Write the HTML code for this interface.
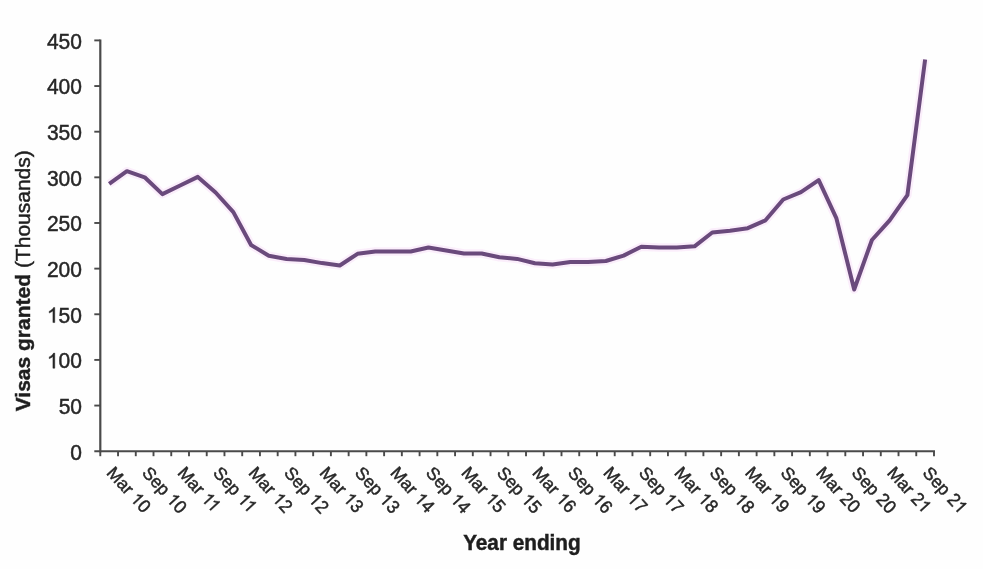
<!DOCTYPE html>
<html><head><meta charset="utf-8"><title>Visas granted</title>
<style>
html,body{margin:0;padding:0;background:#fefefe;}
body{width:983px;height:569px;overflow:hidden;}
svg{display:block;will-change:transform;font-family:"Liberation Sans",sans-serif;}
text{fill:#262626;stroke:#262626;stroke-width:0.45px;paint-order:stroke;}
path{fill:#262626;stroke:#262626;}
.yl text{font-size:21px;} .yl path{stroke-width:43.89px;}
.xl text{font-size:17.6px;} .xl path{stroke-width:52.36px;}
.t{font-size:21px;fill:#1e1e1e;stroke:#1e1e1e;}
.h{fill:none;stroke:none;}
</style></head>
<body>
<svg width="983" height="569" viewBox="0 0 983 569">
<rect width="983" height="569" fill="#fefefe"/>
<line x1="100.3" y1="39.449999999999996" x2="100.3" y2="452.2" stroke="#4a4a4a" stroke-width="2.2"/>
<line x1="94.3" y1="451.2" x2="935.0" y2="451.2" stroke="#4a4a4a" stroke-width="1.9"/>
<line x1="94.3" y1="405.56" x2="100.3" y2="405.56" stroke="#4a4a4a" stroke-width="1.9"/>
<line x1="94.3" y1="359.91" x2="100.3" y2="359.91" stroke="#4a4a4a" stroke-width="1.9"/>
<line x1="94.3" y1="314.27" x2="100.3" y2="314.27" stroke="#4a4a4a" stroke-width="1.9"/>
<line x1="94.3" y1="268.62" x2="100.3" y2="268.62" stroke="#4a4a4a" stroke-width="1.9"/>
<line x1="94.3" y1="222.98" x2="100.3" y2="222.98" stroke="#4a4a4a" stroke-width="1.9"/>
<line x1="94.3" y1="177.33" x2="100.3" y2="177.33" stroke="#4a4a4a" stroke-width="1.9"/>
<line x1="94.3" y1="131.69" x2="100.3" y2="131.69" stroke="#4a4a4a" stroke-width="1.9"/>
<line x1="94.3" y1="86.04" x2="100.3" y2="86.04" stroke="#4a4a4a" stroke-width="1.9"/>
<line x1="94.3" y1="40.40" x2="100.3" y2="40.40" stroke="#4a4a4a" stroke-width="1.9"/>
<line x1="100.30" y1="451.2" x2="100.30" y2="456.2" stroke="#4a4a4a" stroke-width="1.9"/>
<line x1="118.04" y1="451.2" x2="118.04" y2="456.2" stroke="#4a4a4a" stroke-width="1.9"/>
<line x1="135.78" y1="451.2" x2="135.78" y2="456.2" stroke="#4a4a4a" stroke-width="1.9"/>
<line x1="153.51" y1="451.2" x2="153.51" y2="456.2" stroke="#4a4a4a" stroke-width="1.9"/>
<line x1="171.25" y1="451.2" x2="171.25" y2="456.2" stroke="#4a4a4a" stroke-width="1.9"/>
<line x1="188.99" y1="451.2" x2="188.99" y2="456.2" stroke="#4a4a4a" stroke-width="1.9"/>
<line x1="206.73" y1="451.2" x2="206.73" y2="456.2" stroke="#4a4a4a" stroke-width="1.9"/>
<line x1="224.47" y1="451.2" x2="224.47" y2="456.2" stroke="#4a4a4a" stroke-width="1.9"/>
<line x1="242.21" y1="451.2" x2="242.21" y2="456.2" stroke="#4a4a4a" stroke-width="1.9"/>
<line x1="259.94" y1="451.2" x2="259.94" y2="456.2" stroke="#4a4a4a" stroke-width="1.9"/>
<line x1="277.68" y1="451.2" x2="277.68" y2="456.2" stroke="#4a4a4a" stroke-width="1.9"/>
<line x1="295.42" y1="451.2" x2="295.42" y2="456.2" stroke="#4a4a4a" stroke-width="1.9"/>
<line x1="313.16" y1="451.2" x2="313.16" y2="456.2" stroke="#4a4a4a" stroke-width="1.9"/>
<line x1="330.90" y1="451.2" x2="330.90" y2="456.2" stroke="#4a4a4a" stroke-width="1.9"/>
<line x1="348.64" y1="451.2" x2="348.64" y2="456.2" stroke="#4a4a4a" stroke-width="1.9"/>
<line x1="366.37" y1="451.2" x2="366.37" y2="456.2" stroke="#4a4a4a" stroke-width="1.9"/>
<line x1="384.11" y1="451.2" x2="384.11" y2="456.2" stroke="#4a4a4a" stroke-width="1.9"/>
<line x1="401.85" y1="451.2" x2="401.85" y2="456.2" stroke="#4a4a4a" stroke-width="1.9"/>
<line x1="419.59" y1="451.2" x2="419.59" y2="456.2" stroke="#4a4a4a" stroke-width="1.9"/>
<line x1="437.33" y1="451.2" x2="437.33" y2="456.2" stroke="#4a4a4a" stroke-width="1.9"/>
<line x1="455.07" y1="451.2" x2="455.07" y2="456.2" stroke="#4a4a4a" stroke-width="1.9"/>
<line x1="472.80" y1="451.2" x2="472.80" y2="456.2" stroke="#4a4a4a" stroke-width="1.9"/>
<line x1="490.54" y1="451.2" x2="490.54" y2="456.2" stroke="#4a4a4a" stroke-width="1.9"/>
<line x1="508.28" y1="451.2" x2="508.28" y2="456.2" stroke="#4a4a4a" stroke-width="1.9"/>
<line x1="526.02" y1="451.2" x2="526.02" y2="456.2" stroke="#4a4a4a" stroke-width="1.9"/>
<line x1="543.76" y1="451.2" x2="543.76" y2="456.2" stroke="#4a4a4a" stroke-width="1.9"/>
<line x1="561.50" y1="451.2" x2="561.50" y2="456.2" stroke="#4a4a4a" stroke-width="1.9"/>
<line x1="579.23" y1="451.2" x2="579.23" y2="456.2" stroke="#4a4a4a" stroke-width="1.9"/>
<line x1="596.97" y1="451.2" x2="596.97" y2="456.2" stroke="#4a4a4a" stroke-width="1.9"/>
<line x1="614.71" y1="451.2" x2="614.71" y2="456.2" stroke="#4a4a4a" stroke-width="1.9"/>
<line x1="632.45" y1="451.2" x2="632.45" y2="456.2" stroke="#4a4a4a" stroke-width="1.9"/>
<line x1="650.19" y1="451.2" x2="650.19" y2="456.2" stroke="#4a4a4a" stroke-width="1.9"/>
<line x1="667.93" y1="451.2" x2="667.93" y2="456.2" stroke="#4a4a4a" stroke-width="1.9"/>
<line x1="685.66" y1="451.2" x2="685.66" y2="456.2" stroke="#4a4a4a" stroke-width="1.9"/>
<line x1="703.40" y1="451.2" x2="703.40" y2="456.2" stroke="#4a4a4a" stroke-width="1.9"/>
<line x1="721.14" y1="451.2" x2="721.14" y2="456.2" stroke="#4a4a4a" stroke-width="1.9"/>
<line x1="738.88" y1="451.2" x2="738.88" y2="456.2" stroke="#4a4a4a" stroke-width="1.9"/>
<line x1="756.62" y1="451.2" x2="756.62" y2="456.2" stroke="#4a4a4a" stroke-width="1.9"/>
<line x1="774.36" y1="451.2" x2="774.36" y2="456.2" stroke="#4a4a4a" stroke-width="1.9"/>
<line x1="792.09" y1="451.2" x2="792.09" y2="456.2" stroke="#4a4a4a" stroke-width="1.9"/>
<line x1="809.83" y1="451.2" x2="809.83" y2="456.2" stroke="#4a4a4a" stroke-width="1.9"/>
<line x1="827.57" y1="451.2" x2="827.57" y2="456.2" stroke="#4a4a4a" stroke-width="1.9"/>
<line x1="845.31" y1="451.2" x2="845.31" y2="456.2" stroke="#4a4a4a" stroke-width="1.9"/>
<line x1="863.05" y1="451.2" x2="863.05" y2="456.2" stroke="#4a4a4a" stroke-width="1.9"/>
<line x1="880.79" y1="451.2" x2="880.79" y2="456.2" stroke="#4a4a4a" stroke-width="1.9"/>
<line x1="898.52" y1="451.2" x2="898.52" y2="456.2" stroke="#4a4a4a" stroke-width="1.9"/>
<line x1="916.26" y1="451.2" x2="916.26" y2="456.2" stroke="#4a4a4a" stroke-width="1.9"/>
<line x1="934.00" y1="451.2" x2="934.00" y2="456.2" stroke="#4a4a4a" stroke-width="1.9"/>
<g class="yl" transform="translate(70.31,459.50)"><text x="0" y="0" transform="scale(1,1.04)">0</text></g>
<g class="yl" transform="translate(58.64,413.86)"><text x="0" y="0" transform="scale(1,1.04)">50</text></g>
<g class="yl" transform="translate(46.95,368.21)"><text x="0" y="0" transform="scale(1,1.04)"><tspan class="h">1</tspan>00</text><path transform="translate(0.000,0) scale(0.010254,-0.010254)" d="M763 0L583 0L583 1147Q518 1085 412 1023Q306 961 223 930L223 1104Q374 1175 487 1276Q600 1377 647 1472L763 1472Z"/></g>
<g class="yl" transform="translate(46.95,322.57)"><text x="0" y="0" transform="scale(1,1.04)"><tspan class="h">1</tspan>50</text><path transform="translate(0.000,0) scale(0.010254,-0.010254)" d="M763 0L583 0L583 1147Q518 1085 412 1023Q306 961 223 930L223 1104Q374 1175 487 1276Q600 1377 647 1472L763 1472Z"/></g>
<g class="yl" transform="translate(46.95,276.92)"><text x="0" y="0" transform="scale(1,1.04)">200</text></g>
<g class="yl" transform="translate(46.95,231.28)"><text x="0" y="0" transform="scale(1,1.04)">250</text></g>
<g class="yl" transform="translate(46.95,185.63)"><text x="0" y="0" transform="scale(1,1.04)">300</text></g>
<g class="yl" transform="translate(46.95,139.99)"><text x="0" y="0" transform="scale(1,1.04)">350</text></g>
<g class="yl" transform="translate(46.95,94.34)"><text x="0" y="0" transform="scale(1,1.04)">400</text></g>
<g class="yl" transform="translate(46.95,48.70)"><text x="0" y="0" transform="scale(1,1.04)">450</text></g>
<g class="xl" transform="translate(105.77,473.5) rotate(47.5)"><text x="0" y="0">Mar</text><g transform="translate(35.188,0)"><text x="0" y="0" transform="scale(1,1.04)"><tspan class="h">1</tspan>0</text><path transform="translate(0.000,0) scale(0.008594,-0.008594)" d="M763 0L583 0L583 1147Q518 1085 412 1023Q306 961 223 930L223 1104Q374 1175 487 1276Q600 1377 647 1472L763 1472Z"/></g></g>
<g class="xl" transform="translate(141.25,473.5) rotate(47.5)"><text x="0" y="0">Sep</text><g transform="translate(36.188,0)"><text x="0" y="0" transform="scale(1,1.04)"><tspan class="h">1</tspan>0</text><path transform="translate(0.000,0) scale(0.008594,-0.008594)" d="M763 0L583 0L583 1147Q518 1085 412 1023Q306 961 223 930L223 1104Q374 1175 487 1276Q600 1377 647 1472L763 1472Z"/></g></g>
<g class="xl" transform="translate(176.72,473.5) rotate(47.5)"><text x="0" y="0">Mar</text><g transform="translate(35.188,0)"><text x="0" y="0" transform="scale(1,1.04)"><tspan class="h">1</tspan><tspan class="h">1</tspan></text><path transform="translate(0.000,0) scale(0.008594,-0.008594)" d="M763 0L583 0L583 1147Q518 1085 412 1023Q306 961 223 930L223 1104Q374 1175 487 1276Q600 1377 647 1472L763 1472Z"/><path transform="translate(8.469,0) scale(0.008594,-0.008594)" d="M763 0L583 0L583 1147Q518 1085 412 1023Q306 961 223 930L223 1104Q374 1175 487 1276Q600 1377 647 1472L763 1472Z"/></g></g>
<g class="xl" transform="translate(212.20,473.5) rotate(47.5)"><text x="0" y="0">Sep</text><g transform="translate(36.188,0)"><text x="0" y="0" transform="scale(1,1.04)"><tspan class="h">1</tspan><tspan class="h">1</tspan></text><path transform="translate(0.000,0) scale(0.008594,-0.008594)" d="M763 0L583 0L583 1147Q518 1085 412 1023Q306 961 223 930L223 1104Q374 1175 487 1276Q600 1377 647 1472L763 1472Z"/><path transform="translate(8.469,0) scale(0.008594,-0.008594)" d="M763 0L583 0L583 1147Q518 1085 412 1023Q306 961 223 930L223 1104Q374 1175 487 1276Q600 1377 647 1472L763 1472Z"/></g></g>
<g class="xl" transform="translate(247.68,473.5) rotate(47.5)"><text x="0" y="0">Mar</text><g transform="translate(35.188,0)"><text x="0" y="0" transform="scale(1,1.04)"><tspan class="h">1</tspan>2</text><path transform="translate(0.000,0) scale(0.008594,-0.008594)" d="M763 0L583 0L583 1147Q518 1085 412 1023Q306 961 223 930L223 1104Q374 1175 487 1276Q600 1377 647 1472L763 1472Z"/></g></g>
<g class="xl" transform="translate(283.15,473.5) rotate(47.5)"><text x="0" y="0">Sep</text><g transform="translate(36.188,0)"><text x="0" y="0" transform="scale(1,1.04)"><tspan class="h">1</tspan>2</text><path transform="translate(0.000,0) scale(0.008594,-0.008594)" d="M763 0L583 0L583 1147Q518 1085 412 1023Q306 961 223 930L223 1104Q374 1175 487 1276Q600 1377 647 1472L763 1472Z"/></g></g>
<g class="xl" transform="translate(318.63,473.5) rotate(47.5)"><text x="0" y="0">Mar</text><g transform="translate(35.188,0)"><text x="0" y="0" transform="scale(1,1.04)"><tspan class="h">1</tspan>3</text><path transform="translate(0.000,0) scale(0.008594,-0.008594)" d="M763 0L583 0L583 1147Q518 1085 412 1023Q306 961 223 930L223 1104Q374 1175 487 1276Q600 1377 647 1472L763 1472Z"/></g></g>
<g class="xl" transform="translate(354.11,473.5) rotate(47.5)"><text x="0" y="0">Sep</text><g transform="translate(36.188,0)"><text x="0" y="0" transform="scale(1,1.04)"><tspan class="h">1</tspan>3</text><path transform="translate(0.000,0) scale(0.008594,-0.008594)" d="M763 0L583 0L583 1147Q518 1085 412 1023Q306 961 223 930L223 1104Q374 1175 487 1276Q600 1377 647 1472L763 1472Z"/></g></g>
<g class="xl" transform="translate(389.58,473.5) rotate(47.5)"><text x="0" y="0">Mar</text><g transform="translate(35.188,0)"><text x="0" y="0" transform="scale(1,1.04)"><tspan class="h">1</tspan>4</text><path transform="translate(0.000,0) scale(0.008594,-0.008594)" d="M763 0L583 0L583 1147Q518 1085 412 1023Q306 961 223 930L223 1104Q374 1175 487 1276Q600 1377 647 1472L763 1472Z"/></g></g>
<g class="xl" transform="translate(425.06,473.5) rotate(47.5)"><text x="0" y="0">Sep</text><g transform="translate(36.188,0)"><text x="0" y="0" transform="scale(1,1.04)"><tspan class="h">1</tspan>4</text><path transform="translate(0.000,0) scale(0.008594,-0.008594)" d="M763 0L583 0L583 1147Q518 1085 412 1023Q306 961 223 930L223 1104Q374 1175 487 1276Q600 1377 647 1472L763 1472Z"/></g></g>
<g class="xl" transform="translate(460.54,473.5) rotate(47.5)"><text x="0" y="0">Mar</text><g transform="translate(35.188,0)"><text x="0" y="0" transform="scale(1,1.04)"><tspan class="h">1</tspan>5</text><path transform="translate(0.000,0) scale(0.008594,-0.008594)" d="M763 0L583 0L583 1147Q518 1085 412 1023Q306 961 223 930L223 1104Q374 1175 487 1276Q600 1377 647 1472L763 1472Z"/></g></g>
<g class="xl" transform="translate(496.01,473.5) rotate(47.5)"><text x="0" y="0">Sep</text><g transform="translate(36.188,0)"><text x="0" y="0" transform="scale(1,1.04)"><tspan class="h">1</tspan>5</text><path transform="translate(0.000,0) scale(0.008594,-0.008594)" d="M763 0L583 0L583 1147Q518 1085 412 1023Q306 961 223 930L223 1104Q374 1175 487 1276Q600 1377 647 1472L763 1472Z"/></g></g>
<g class="xl" transform="translate(531.49,473.5) rotate(47.5)"><text x="0" y="0">Mar</text><g transform="translate(35.188,0)"><text x="0" y="0" transform="scale(1,1.04)"><tspan class="h">1</tspan>6</text><path transform="translate(0.000,0) scale(0.008594,-0.008594)" d="M763 0L583 0L583 1147Q518 1085 412 1023Q306 961 223 930L223 1104Q374 1175 487 1276Q600 1377 647 1472L763 1472Z"/></g></g>
<g class="xl" transform="translate(566.96,473.5) rotate(47.5)"><text x="0" y="0">Sep</text><g transform="translate(36.188,0)"><text x="0" y="0" transform="scale(1,1.04)"><tspan class="h">1</tspan>6</text><path transform="translate(0.000,0) scale(0.008594,-0.008594)" d="M763 0L583 0L583 1147Q518 1085 412 1023Q306 961 223 930L223 1104Q374 1175 487 1276Q600 1377 647 1472L763 1472Z"/></g></g>
<g class="xl" transform="translate(602.44,473.5) rotate(47.5)"><text x="0" y="0">Mar</text><g transform="translate(35.188,0)"><text x="0" y="0" transform="scale(1,1.04)"><tspan class="h">1</tspan>7</text><path transform="translate(0.000,0) scale(0.008594,-0.008594)" d="M763 0L583 0L583 1147Q518 1085 412 1023Q306 961 223 930L223 1104Q374 1175 487 1276Q600 1377 647 1472L763 1472Z"/></g></g>
<g class="xl" transform="translate(637.92,473.5) rotate(47.5)"><text x="0" y="0">Sep</text><g transform="translate(36.188,0)"><text x="0" y="0" transform="scale(1,1.04)"><tspan class="h">1</tspan>7</text><path transform="translate(0.000,0) scale(0.008594,-0.008594)" d="M763 0L583 0L583 1147Q518 1085 412 1023Q306 961 223 930L223 1104Q374 1175 487 1276Q600 1377 647 1472L763 1472Z"/></g></g>
<g class="xl" transform="translate(673.39,473.5) rotate(47.5)"><text x="0" y="0">Mar</text><g transform="translate(35.188,0)"><text x="0" y="0" transform="scale(1,1.04)"><tspan class="h">1</tspan>8</text><path transform="translate(0.000,0) scale(0.008594,-0.008594)" d="M763 0L583 0L583 1147Q518 1085 412 1023Q306 961 223 930L223 1104Q374 1175 487 1276Q600 1377 647 1472L763 1472Z"/></g></g>
<g class="xl" transform="translate(708.87,473.5) rotate(47.5)"><text x="0" y="0">Sep</text><g transform="translate(36.188,0)"><text x="0" y="0" transform="scale(1,1.04)"><tspan class="h">1</tspan>8</text><path transform="translate(0.000,0) scale(0.008594,-0.008594)" d="M763 0L583 0L583 1147Q518 1085 412 1023Q306 961 223 930L223 1104Q374 1175 487 1276Q600 1377 647 1472L763 1472Z"/></g></g>
<g class="xl" transform="translate(744.35,473.5) rotate(47.5)"><text x="0" y="0">Mar</text><g transform="translate(35.188,0)"><text x="0" y="0" transform="scale(1,1.04)"><tspan class="h">1</tspan>9</text><path transform="translate(0.000,0) scale(0.008594,-0.008594)" d="M763 0L583 0L583 1147Q518 1085 412 1023Q306 961 223 930L223 1104Q374 1175 487 1276Q600 1377 647 1472L763 1472Z"/></g></g>
<g class="xl" transform="translate(779.82,473.5) rotate(47.5)"><text x="0" y="0">Sep</text><g transform="translate(36.188,0)"><text x="0" y="0" transform="scale(1,1.04)"><tspan class="h">1</tspan>9</text><path transform="translate(0.000,0) scale(0.008594,-0.008594)" d="M763 0L583 0L583 1147Q518 1085 412 1023Q306 961 223 930L223 1104Q374 1175 487 1276Q600 1377 647 1472L763 1472Z"/></g></g>
<g class="xl" transform="translate(815.30,473.5) rotate(47.5)"><text x="0" y="0">Mar</text><g transform="translate(35.188,0)"><text x="0" y="0" transform="scale(1,1.04)">20</text></g></g>
<g class="xl" transform="translate(850.78,473.5) rotate(47.5)"><text x="0" y="0">Sep</text><g transform="translate(36.188,0)"><text x="0" y="0" transform="scale(1,1.04)">20</text></g></g>
<g class="xl" transform="translate(886.25,473.5) rotate(47.5)"><text x="0" y="0">Mar</text><g transform="translate(35.188,0)"><text x="0" y="0" transform="scale(1,1.04)">2<tspan class="h">1</tspan></text><path transform="translate(9.781,0) scale(0.008594,-0.008594)" d="M763 0L583 0L583 1147Q518 1085 412 1023Q306 961 223 930L223 1104Q374 1175 487 1276Q600 1377 647 1472L763 1472Z"/></g></g>
<g class="xl" transform="translate(921.73,473.5) rotate(47.5)"><text x="0" y="0">Sep</text><g transform="translate(36.188,0)"><text x="0" y="0" transform="scale(1,1.04)">2<tspan class="h">1</tspan></text><path transform="translate(9.781,0) scale(0.008594,-0.008594)" d="M763 0L583 0L583 1147Q518 1085 412 1023Q306 961 223 930L223 1104Q374 1175 487 1276Q600 1377 647 1472L763 1472Z"/></g></g>
<polyline points="109.17,183.90 126.91,171.20 144.65,177.30 162.38,194.10 180.12,185.50 197.86,176.90 215.60,192.50 233.34,212.10 251.08,245.00 268.81,255.80 286.55,259.00 304.29,260.00 322.03,263.10 339.77,265.50 357.51,253.80 375.24,251.50 392.98,251.50 410.72,251.50 428.46,247.50 446.20,250.50 463.94,253.50 481.67,253.50 499.41,257.30 517.15,258.90 534.89,263.30 552.63,264.50 570.36,262.10 588.10,262.10 605.84,261.00 623.58,255.60 641.32,246.70 659.06,247.50 676.79,247.50 694.53,246.30 712.27,232.50 730.01,230.80 747.75,228.20 765.49,220.30 783.22,199.50 800.96,192.10 818.70,180.20 836.44,218.40 854.18,289.50 871.92,240.00 889.65,220.30 907.39,195.20 925.13,59.50" fill="none" stroke="#fbeefb" stroke-width="8.5" stroke-linejoin="round"/>
<polyline points="109.17,183.90 126.91,171.20 144.65,177.30 162.38,194.10 180.12,185.50 197.86,176.90 215.60,192.50 233.34,212.10 251.08,245.00 268.81,255.80 286.55,259.00 304.29,260.00 322.03,263.10 339.77,265.50 357.51,253.80 375.24,251.50 392.98,251.50 410.72,251.50 428.46,247.50 446.20,250.50 463.94,253.50 481.67,253.50 499.41,257.30 517.15,258.90 534.89,263.30 552.63,264.50 570.36,262.10 588.10,262.10 605.84,261.00 623.58,255.60 641.32,246.70 659.06,247.50 676.79,247.50 694.53,246.30 712.27,232.50 730.01,230.80 747.75,228.20 765.49,220.30 783.22,199.50 800.96,192.10 818.70,180.20 836.44,218.40 854.18,289.50 871.92,240.00 889.65,220.30 907.39,195.20 925.13,59.50" fill="none" stroke="#6a4a7c" stroke-width="4" stroke-linejoin="round" stroke-linecap="butt"/>
<text class="t" transform="translate(521.9,550.0) scale(0.988,1.025)" text-anchor="middle" font-weight="bold">Year ending</text>
<text class="t" transform="translate(30.0,411.3) rotate(-90)"><tspan font-weight="bold">Visas granted</tspan> (Thousands)</text>
</svg>
</body></html>
